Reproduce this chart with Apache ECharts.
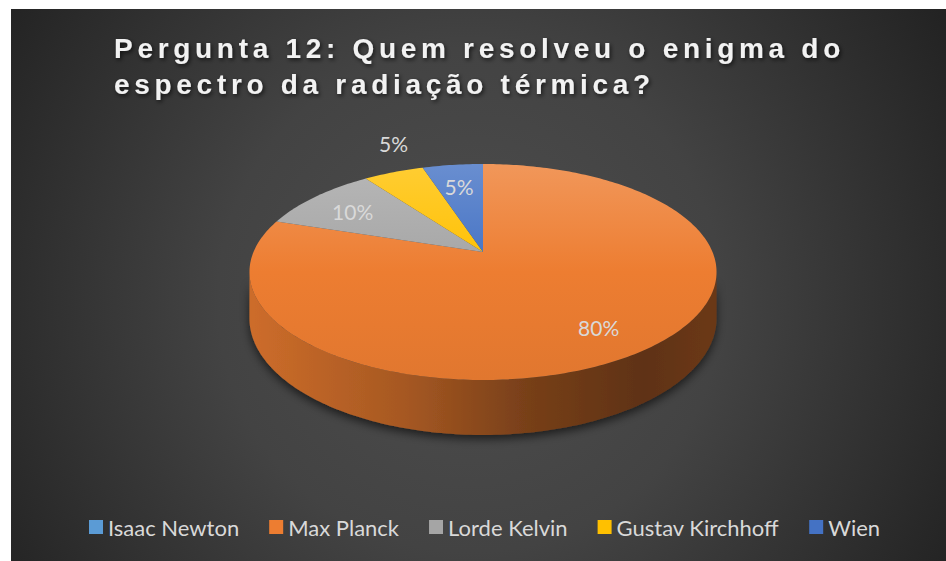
<!DOCTYPE html>
<html>
<head>
<meta charset="utf-8">
<script src="https://cdn.jsdelivr.net/npm/echarts@6/dist/echarts.min.js"></script>
<style>
  html, body { margin: 0; padding: 0; background: #ffffff; }
  #chart { width: 946px; height: 561px; }
</style>
</head>
<body>
<div id="chart"></div>
<script>
// ---- chart content ----
const titleLines = ['Pergunta 12: Quem resolveu o enigma do', 'espectro da radiação térmica?'];
const categories = ['Isaac Newton', 'Max Planck', 'Lorde Kelvin', 'Gustav Kirchhoff', 'Wien'];
const shares = [0, 80, 10, 5, 5];
const sliceColors = ['#5B9BD5', '#ED7D31', '#A5A5A5', '#FFC000', '#4472C4'];
const labelPlacement = ['inside', 'inside', 'inside', 'outside', 'inside'];

// ---- geometry of the tilted disk (screen pixels) ----
const PIE = { cx: 483, cy: 252, rx: 229.5, ry: 104.3, persp: 0.185, depth: 44.8 };
const TAU = Math.PI * 2;

// theta: clockwise from 12 o'clock; r: radius fraction; drop: wall height below the top face
function project(theta, r, drop) {
  const s = Math.sin(theta), c = Math.cos(theta);
  const d = 1 + PIE.persp * r * c;
  return [PIE.cx + PIE.rx * r * s / d, PIE.cy - PIE.ry * r * c / d + (drop || 0) / d];
}

function rim(a, b, drop) {
  const n = Math.max(2, Math.ceil(Math.abs(b - a) / (Math.PI / 180)));
  const pts = [];
  for (let k = 0; k <= n; k++) pts.push(project(a + (b - a) * k / n, 1, drop));
  return pts;
}

function hexRgb(hex) {
  const v = parseInt(hex.slice(1), 16);
  return [(v >> 16) & 255, (v >> 8) & 255, v & 255];
}
function shade(hex, f) {
  const c = hexRgb(hex).map(x => Math.max(0, Math.min(255, Math.round(x * f))));
  return 'rgb(' + c.join(',') + ')';
}
function tint(hex, t) {
  const c = hexRgb(hex).map(x => Math.round(x + (255 - x) * t));
  return 'rgb(' + c.join(',') + ')';
}

const total = shares.reduce((a, b) => a + b, 0);
const topY = PIE.cy - PIE.ry / (1 + PIE.persp);
const bottomY = PIE.cy + PIE.ry / (1 - PIE.persp);
// the outer wall is visible where cos(theta) < -persp
const wallFrom = Math.acos(-PIE.persp);
const wallTo = TAU - wallFrom;

function sliceRenderer(i) {
  return function (params, api) {
    const value = api.value(0);
    if (!(value > 0)) return { type: 'group', children: [] };
    const before = shares.slice(0, i).reduce((a, b) => a + b, 0);
    const a0 = before / total * TAU;
    const a1 = (before + value) / total * TAU;
    const base = sliceColors[i];
    const children = [];

    const w0 = Math.max(a0, wallFrom), w1 = Math.min(a1, wallTo);
    if (w1 > w0) {
      const pts = rim(w0, w1, 0).concat(rim(w1, w0, PIE.depth));
      children.push({
        type: 'polygon',
        shape: { points: pts },
        style: {
          fill: {
            type: 'linear', global: true,
            x: PIE.cx - PIE.rx, y: 0, x2: PIE.cx + PIE.rx, y2: 0,
            colorStops: [
              { offset: 0, color: shade(base, 0.86) },
              { offset: 0.33, color: shade(base, 0.7) },
              { offset: 0.6, color: shade(base, 0.5) },
              { offset: 0.85, color: shade(base, 0.4) },
              { offset: 1, color: shade(base, 0.45) }
            ]
          },
          shadowColor: 'rgba(0,0,0,0.6)',
          shadowBlur: 10,
          shadowOffsetY: 4
        }
      });
    }

    children.push({
      type: 'polygon',
      shape: { points: [[PIE.cx, PIE.cy]].concat(rim(a0, a1, 0)) },
      style: {
        fill: {
          type: 'linear', global: true,
          x: 0, y: topY, x2: 0, y2: bottomY,
          colorStops: [
            { offset: 0, color: tint(base, 0.2) },
            { offset: 0.5, color: base },
            { offset: 1, color: shade(base, 0.95) }
          ]
        }
      }
    });

    const mid = (a0 + a1) / 2;
    const pct = Math.round(value / total * 100) + '%';
    let lx, ly, vAlign;
    if (labelPlacement[i] === 'outside') {
      const p = project(mid, 1, 0);
      lx = p[0]; ly = p[1] - 18; vAlign = 'bottom';
    } else {
      const p = project(mid, 0.76, 0);
      lx = p[0]; ly = p[1] + 3; vAlign = 'middle';
    }
    children.push({
      type: 'text',
      style: {
        text: pct, x: lx, y: ly,
        fill: '#d9d9d9', font: '21px Lato',
        align: 'center', verticalAlign: vAlign
      }
    });
    return { type: 'group', children: children };
  };
}

const chart = echarts.init(document.getElementById('chart'), null, { renderer: 'svg' });

chart.setOption({
  animation: false,
  color: sliceColors,
  graphic: [{
    type: 'rect', z: -10,
    shape: { x: 11, y: 9, width: 935, height: 552 },
    style: {
      fill: {
        type: 'radial', global: true, x: 470, y: 300, r: 560,
        colorStops: [
          { offset: 0, color: '#4e4e4e' },
          { offset: 0.45, color: '#434343' },
          { offset: 1, color: '#222222' }
        ]
      }
    }
  }],
  title: {
    text: titleLines.join('\n'),
    left: 114, top: 30, padding: 0,
    textStyle: {
      color: '#f2f2f2',
      fontFamily: 'Liberation Sans',
      fontWeight: 'bold',
      fontSize: 28,
      lineHeight: 36,
      textShadowColor: 'rgba(0,0,0,0.65)',
      textShadowBlur: 4,
      textShadowOffsetX: 1.5,
      textShadowOffsetY: 2
    }
  },
  legend: {
    data: categories,
    left: 89, top: 516, padding: 0,
    icon: 'rect', itemWidth: 14, itemHeight: 14, itemGap: 30,
    selectedMode: false,
    textStyle: { color: '#d9d9d9', fontFamily: 'Lato', fontSize: 22 }
  },
  series: categories.map((name, i) => ({
    type: 'custom',
    name: name,
    coordinateSystem: 'none',
    itemStyle: { color: sliceColors[i] },
    data: [shares[i]],
    renderItem: sliceRenderer(i)
  }))
});

// widen the title's tracking
function trackTitle() {
  chart.getDom().querySelectorAll('text').forEach(t => {
    if (titleLines.indexOf(t.textContent) >= 0) t.style.letterSpacing = '4.7px';
  });
}
trackTitle();
chart.on('finished', trackTitle);
requestAnimationFrame(trackTitle);
</script>
</body>
</html>
